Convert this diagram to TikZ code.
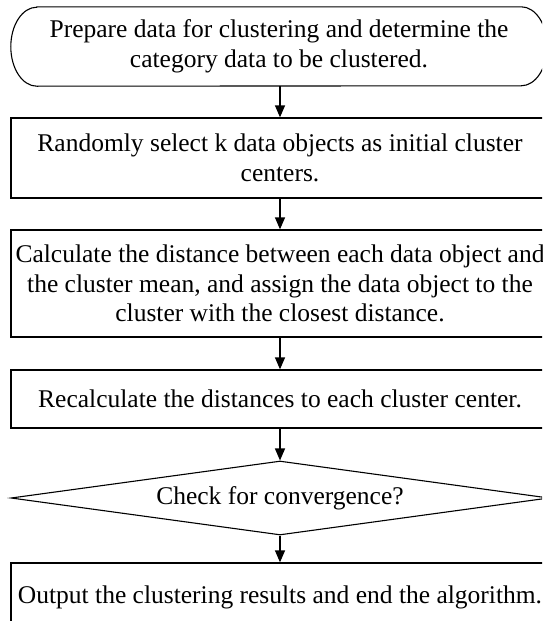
\documentclass[tikz,border=0pt]{standalone}
\usepackage{fontspec}
\setmainfont{Liberation Serif}
\usetikzlibrary{shapes.geometric,arrows.meta}

\tikzset{
  stepfont/.style={font=\fontsize{25.5pt}{29.5pt}\selectfont, align=center},
  terminal/.style={stepfont, minimum width=536pt, minimum height=79pt, inner sep=2pt},
  process/.style={stepfont, draw, line width=1.3pt,
    minimum width=538pt, inner sep=1pt},
  decision/.style={stepfont, draw, line width=1.1pt, diamond, aspect=7.3,
    minimum width=538pt, minimum height=74pt, inner sep=0pt},
  flowline/.style={line width=1.3pt, -{Triangle[width=10pt,length=12pt]}}
}

\begin{document}
\begin{tikzpicture}[x=1pt,y=-1pt]
			%%%%% START %%%%%
			\useasboundingbox (0,0) rectangle (542,621);
			\clip (0,0) rectangle (542,621);
			
			\node[terminal] (prep) at (279, 46.5)
			  {Prepare data for clustering and determine the\\category data to be clustered.};
			% stadium outline with elliptic ends
			\draw[line width=1.1pt] ([xshift=26pt]prep.north west) -- ([xshift=-26pt]prep.north east)
			  arc[start angle=90, end angle=-90, x radius=26pt, y radius=39.5pt]
			  -- ([xshift=26pt]prep.south west)
			  arc[start angle=270, end angle=90, x radius=26pt, y radius=39.5pt] -- cycle;
			
			\node[process, minimum height=80pt] (select) at (280, 158)
			  {Randomly select k data objects as initial cluster\\centers.};
			
			\node[process, minimum height=107pt] (assign) at (280, 283.5)
			  {Calculate the distance between each data object and\\the cluster mean, and assign the data object to the\\cluster with the closest distance.};
			
			\node[process, minimum height=58pt] (recalc) at (280, 399)
			  {Recalculate the distances to each cluster center.};
			
			\node[decision] (conv) at (280, 498) {Check for convergence?};
			
			\node[process, minimum height=68pt] (output) at (280, 597)
			  {Output the clustering results and end the algorithm.};
			
			\draw[flowline] (select.north |- prep.south) -- (select.north);
			\draw[flowline] (select) -- (assign);
			\draw[flowline] (assign) -- (recalc);
			\draw[flowline] (recalc) -- (conv);
			\draw[flowline] (conv) -- (output);
			
			%%%%% END %%%%%
\end{tikzpicture}
\end{document}
